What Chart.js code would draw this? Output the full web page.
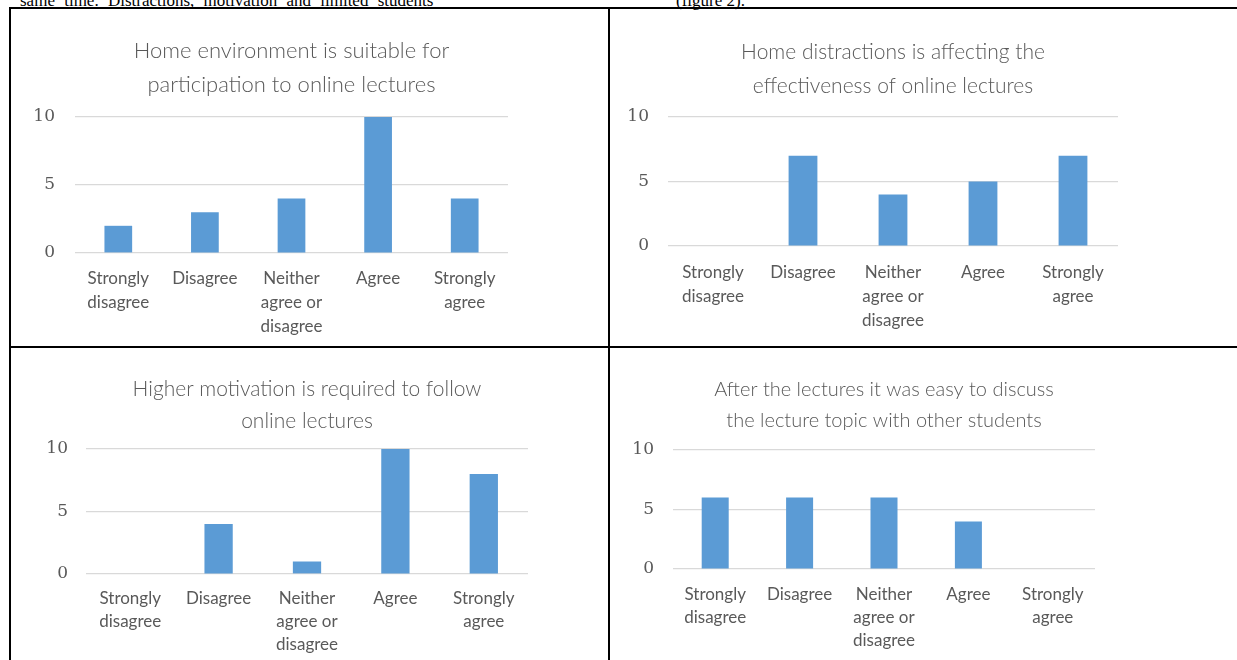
<!DOCTYPE html>
<html>
<head>
<meta charset="utf-8">
<script src="https://cdn.jsdelivr.net/npm/chart.js@4.4.0/dist/chart.umd.min.js"></script>
<style>
    body { margin: 0; background: #fff; width: 1237px; height: 660px; overflow: hidden; position: relative; }
    .line { position: absolute; background: #000; }
    .cell { position: absolute; }
    .intro { position: absolute; top: -8px; font-family: "Liberation Serif", serif; font-size: 17px; line-height: 17px; color: #000; white-space: pre; }
</style>
</head>
<body>
<div class="intro" style="left:20px; word-spacing:5px;">same time. Distractions, motivation and limited students</div>
<div class="intro" style="left:676px;">(figure 2).</div>

<div class="line" style="left:9px; top:7px; width:1228px; height:2px;"></div>
<div class="line" style="left:9px; top:7px; width:2px; height:653px;"></div>
<div class="line" style="left:608px; top:7px; width:2px; height:653px;"></div>
<div class="line" style="left:9px; top:346px; width:1228px; height:2px;"></div>

<canvas id="chart1" class="cell"></canvas>
<canvas id="chart2" class="cell"></canvas>
<canvas id="chart3" class="cell"></canvas>
<canvas id="chart4" class="cell"></canvas>

<script>
// Survey data (number of students per answer)
const categories = [
    ['Strongly', 'disagree'],
    'Disagree',
    ['Neither', 'agree or', 'disagree'],
    'Agree',
    ['Strongly', 'agree']
];
const yTicks = [0, 5, 10];

const homeSuitable = [2, 3, 4, 10, 4];
const homeDistractions = [0, 7, 4, 5, 7];
const higherMotivation = [0, 4, 1, 10, 8];
const easyDiscussion = [6, 6, 6, 4, 0];

const titleHome = ['Home environment is suitable for', 'participation to online lectures'];
const titleDistractions = ['Home distractions is affecting the', 'effectiveness of online lectures'];
const titleMotivation = ['Higher motivation is required to follow', 'online lectures'];
const titleDiscussion = ['After the lectures it was easy to discuss', 'the lecture topic with other students'];

// Layout of each chart inside its table cell
const panels = [
    { id: 'chart1', data: homeSuitable, title: titleHome,
      cell: { l: 11, t: 9, w: 597, h: 337 }, plot: { l: 75, r: 508, t: 117, b: 253 },
      titleY: 51, titleSize: 22, titleGap: 34, labelRight: 55, labelY: 279, labelGap: 24 },
    { id: 'chart2', data: homeDistractions, title: titleDistractions,
      cell: { l: 610, t: 9, w: 627, h: 337 }, plot: { l: 668, r: 1118, t: 117, b: 246 },
      titleY: 52, titleSize: 21, titleGap: 34, labelRight: 649, labelY: 273, labelGap: 24 },
    { id: 'chart3', data: higherMotivation, title: titleMotivation,
      cell: { l: 11, t: 348, w: 597, h: 312 }, plot: { l: 86, r: 528, t: 449, b: 574 },
      titleY: 389, titleSize: 21, titleGap: 32, labelRight: 68, labelY: 599, labelGap: 23 },
    { id: 'chart4', data: easyDiscussion, title: titleDiscussion,
      cell: { l: 610, t: 348, w: 627, h: 312 }, plot: { l: 673, r: 1095, t: 450, b: 569 },
      titleY: 390, titleSize: 20, titleGap: 31, labelRight: 654, labelY: 595, labelGap: 23 }
];

const textColor = '#595959';
const gridColor = '#d9d9d9';
const barColor = '#5b9bd5';
const axisWidth = 50;

panels.forEach(p => {
    const canvas = document.getElementById(p.id);
    canvas.width = p.cell.w;
    canvas.height = p.cell.h;
    canvas.style.left = p.cell.l + 'px';
    canvas.style.top = p.cell.t + 'px';

    const titleTop = p.titleY - p.cell.t - p.titleGap / 2;
    const titleBottom = p.plot.t - p.cell.t - titleTop - 2 * p.titleGap;

    new Chart(canvas, {
        type: 'bar',
        data: {
            labels: categories,
            datasets: [{
                data: p.data,
                backgroundColor: barColor,
                borderWidth: 0,
                categoryPercentage: 1,
                barPercentage: 0.32
            }]
        },
        options: {
            responsive: false,
            animation: false,
            devicePixelRatio: 1,
            layout: {
                padding: {
                    left: p.plot.l - p.cell.l - axisWidth,
                    right: p.cell.l + p.cell.w - p.plot.r,
                    top: 0,
                    bottom: 0
                }
            },
            plugins: {
                legend: { display: false },
                tooltip: { enabled: false },
                title: {
                    display: true,
                    text: p.title,
                    fullSize: false,
                    color: textColor,
                    font: { family: 'Lato', size: p.titleSize, weight: 300, lineHeight: p.titleGap / p.titleSize },
                    padding: { top: titleTop, bottom: titleBottom }
                }
            },
            scales: {
                x: {
                    grid: { display: false, drawTicks: false },
                    border: { display: false },
                    ticks: {
                        color: textColor,
                        font: { family: 'Lato', size: 17, lineHeight: p.labelGap / 17 },
                        padding: p.labelY - p.plot.b - p.labelGap / 2,
                        maxRotation: 0,
                        autoSkip: false
                    },
                    afterFit: scale => { scale.height = p.cell.t + p.cell.h - p.plot.b; }
                },
                y: {
                    min: 0,
                    max: 10,
                    grid: { color: gridColor, lineWidth: 1.2, drawTicks: false },
                    border: { display: false },
                    ticks: {
                        color: textColor,
                        font: { family: 'DejaVu Serif', size: 17 },
                        padding: p.plot.l - p.labelRight
                    },
                    afterBuildTicks: scale => { scale.ticks = yTicks.map(v => ({ value: v })); },
                    afterFit: scale => { scale.width = axisWidth; }
                }
            }
        }
    });
});
</script>
</body>
</html>
